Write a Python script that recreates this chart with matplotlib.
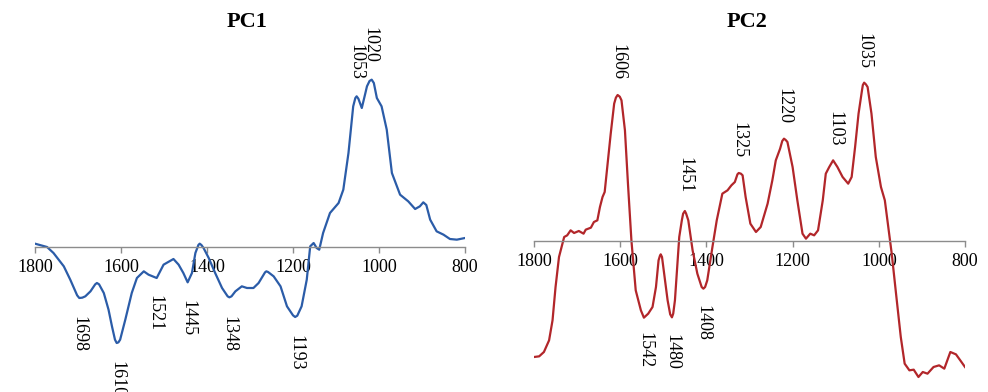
import matplotlib
matplotlib.use('Agg')
import matplotlib.pyplot as plt

# PC1 loading (wavenumber, arbitrary loading units)
pc1_wn = [1800, 1772, 1757, 1733, 1718, 1702, 1697, 1690, 1683, 1671, 1660, 1656, 1651,
          1640, 1629, 1621, 1614, 1610, 1606, 1602, 1590, 1575, 1563, 1547, 1536, 1517,
          1501, 1478, 1466, 1455, 1445, 1435, 1427, 1420, 1417, 1413, 1408, 1396, 1381,
          1365, 1352, 1348, 1343, 1334, 1319, 1307, 1292, 1280, 1265, 1262, 1258, 1245,
          1229, 1214, 1200, 1195, 1190, 1180, 1168, 1160, 1152, 1145, 1139, 1130, 1114,
          1094, 1083, 1071, 1060, 1055, 1052, 1048, 1040, 1032, 1028, 1022, 1017, 1012,
          1005, 994, 982, 970, 951, 932, 916, 905, 897, 890, 881, 866, 850, 835, 819, 800]
pc1_val = [10, 0, -18, -58, -98, -145, -153, -152, -148, -133, -112, -108, -112,
           -138, -188, -238, -278, -288, -286, -278, -218, -138, -93, -73, -83, -93,
           -53, -36, -53, -78, -106, -78, -18, 6, 10, 6, -3, -33, -78,
           -123, -148, -151, -148, -133, -118, -123, -123, -108, -76, -73, -75, -88,
           -118, -178, -205, -210, -206, -178, -98, 2, 12, -3, -8, 42, 102,
           132, 172, 282, 422, 447, 452, 445, 417, 460, 482, 498, 502, 492,
           447, 422, 352, 222, 157, 137, 114, 122, 134, 126, 82, 47, 37, 24, 22, 27]

# PC2 loading
pc2_wn = [1800, 1788, 1777, 1765, 1757, 1750, 1742, 1730, 1723, 1715, 1707, 1696, 1685,
          1680, 1668, 1661, 1653, 1647, 1641, 1636, 1630, 1622, 1614, 1610, 1606, 1601,
          1597, 1589, 1582, 1574, 1564, 1552, 1545, 1535, 1525, 1517, 1511, 1508, 1506,
          1503, 1500, 1490, 1484, 1480, 1477, 1473, 1463, 1457, 1454, 1450, 1447, 1442,
          1432, 1421, 1411, 1407, 1403, 1398, 1386, 1376, 1363, 1351, 1342, 1334, 1328,
          1325, 1320, 1316, 1309, 1298, 1285, 1274, 1258, 1247, 1239, 1229, 1224, 1220,
          1216, 1212, 1200, 1189, 1177, 1169, 1159, 1150, 1141, 1130, 1123, 1115, 1106,
          1096, 1084, 1071, 1063, 1055, 1047, 1039, 1037, 1034, 1030, 1026, 1017, 1007,
          995, 986, 978, 970, 960, 949, 940, 929, 919, 908, 898, 887, 873, 860, 848, 834,
          821, 811, 800]
pc2_val = [-348, -346, -333, -298, -238, -138, -48, 12, 17, 32, 24, 30, 22,
           34, 40, 57, 62, 102, 132, 147, 222, 322, 412, 430, 438, 433,
           422, 332, 172, 2, -148, -208, -230, -218, -198, -138, -58, -45, -40,
           -48, -78, -178, -220, -229, -218, -178, 12, 62, 82, 90, 82, 62,
           -28, -98, -138, -143, -138, -118, -18, 62, 142, 152, 167, 177, 200,
           204, 202, 197, 132, 52, 27, 42, 112, 182, 242, 277, 300, 307,
           303, 297, 222, 122, 22, 7, 22, 17, 32, 122, 202, 222, 242,
           222, 192, 172, 192, 282, 382, 452, 468, 475, 470, 462, 382, 252,
           162, 122, 42, -38, -158, -288, -368, -388, -386, -408, -393, -398, -378, -373, -383, -333,
           -340, -358, -378]

pc1_peaks = [1698, 1610, 1521, 1445, 1348, 1193, 1053, 1020]
pc2_peaks = [1606, 1542, 1480, 1451, 1408, 1325, 1220, 1103, 1035]

ticks = [1800, 1600, 1400, 1200, 1000, 800]

# label anchors (y of the text edge nearest the curve) - layout only
pc1_label_y = [-208, -343, -143, -158, -206, -263, 502, 552]
pc1_label_up = [False, False, False, False, False, False, True, True]
pc2_label_y = [482, -273, -278, 144, -193, 250, 352, 284, 517]
pc2_label_up = [True, False, False, True, False, True, True, True, True]

W, H = 988, 392
fig = plt.figure(figsize=(W / 100, H / 100), dpi=100)
plt.rcParams['font.family'] = ['Liberation Serif', 'DejaVu Serif']


def panel(x0, x1, axis_y, wn, val, color, title, title_x, peaks, lab_y, lab_up):
    top = axis_y * 3
    bottom = -(H - axis_y) * 3
    ax = fig.add_axes([x0 / W, 0, (x1 - x0) / W, 1])
    ax.set_xlim(1800, 800)
    ax.set_ylim(bottom, top)
    ax.plot(wn, val, color=color, lw=1.6, solid_joinstyle='round')
    for s in ['top', 'right', 'left']:
        ax.spines[s].set_visible(False)
    ax.spines['bottom'].set_position(('data', 0))
    ax.spines['bottom'].set_color('#8c8c8c')
    ax.spines['bottom'].set_linewidth(1.0)
    ax.set_yticks([])
    ax.set_xticks(ticks)
    ax.set_xticklabels([str(t) for t in ticks])
    ax.tick_params(axis='x', direction='out', length=4, width=1.0, color='#8c8c8c',
                   pad=5, labelsize=13)
    ax.patch.set_visible(False)
    for p, y, up in zip(peaks, lab_y, lab_up):
        ax.text(p, y, str(p), rotation=-90, ha='center', va='bottom' if up else 'top',
                fontsize=13, clip_on=False)
    fig.text(title_x / W, 1 - 22 / H, title, ha='center', va='center',
             fontsize=16, fontweight='bold')
    return ax


panel(35, 465, 247, pc1_wn, pc1_val, '#2b5ca8', 'PC1', 247, pc1_peaks, pc1_label_y, pc1_label_up)
panel(534, 965, 241, pc2_wn, pc2_val, '#b2262a', 'PC2', 747, pc2_peaks, pc2_label_y, pc2_label_up)

fig.savefig('out.png', dpi=100)
